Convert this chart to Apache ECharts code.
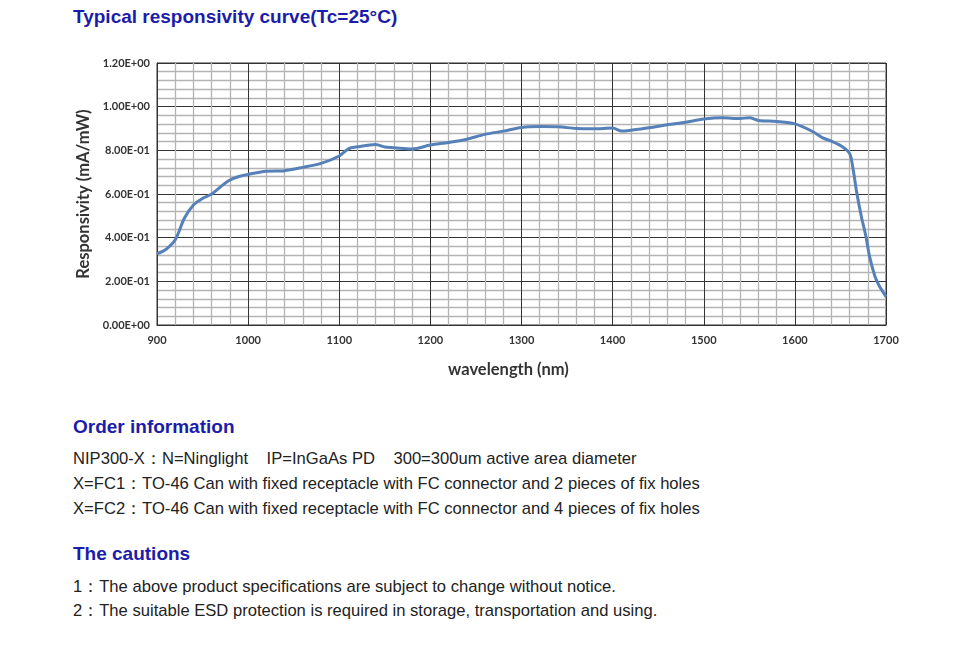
<!DOCTYPE html>
<html>
<head>
<meta charset="utf-8">
<script src="https://cdn.jsdelivr.net/npm/echarts@6/dist/echarts.min.js"></script>
<style>
  html, body { margin: 0; padding: 0; background: #fff; }
  #page { position: relative; width: 972px; height: 650px; overflow: hidden; font-family: "Liberation Sans", Arial, sans-serif; }
  #chart { position: absolute; left: 0; top: 0; width: 972px; height: 400px; }
  .h { position: absolute; left: 73px; color: #1c1caa; font-weight: bold; font-size: 19px; white-space: nowrap; }
  .t { position: absolute; left: 73px; color: #222; font-size: 16.6px; white-space: nowrap; }
</style>
</head>
<body>
<div id="page">
  <div class="h" style="top:6px;">Typical responsivity curve(Tc=25°C)</div>
  <div id="chart"></div>
  <div class="h" style="top:416px;">Order information</div>
  <div class="t" style="top:448px;">NIP300-X：N=Ninglight&nbsp;&nbsp;&nbsp; IP=InGaAs PD&nbsp;&nbsp;&nbsp; 300=300um active area diameter</div>
  <div class="t" style="top:473px;">X=FC1：TO-46 Can with fixed receptacle with FC connector and 2 pieces of fix holes</div>
  <div class="t" style="top:498px;">X=FC2：TO-46 Can with fixed receptacle with FC connector and 4 pieces of fix holes</div>
  <div class="h" style="top:543px;">The cautions</div>
  <div class="t" style="top:576px;">1：The above product specifications are subject to change without notice.</div>
  <div class="t" style="top:600px;">2：The suitable ESD protection is required in storage, transportation and using.</div>
</div>
<script>
const wavelength = [900, 910, 920, 930, 940, 950, 960, 970, 980, 990, 1000, 1020, 1040, 1060, 1080, 1100, 1110, 1120, 1140, 1150, 1160, 1180, 1200, 1220, 1240, 1260, 1280, 1300, 1320, 1340, 1360, 1380, 1400, 1410, 1420, 1440, 1460, 1480, 1500, 1520, 1540, 1550, 1560, 1580, 1600, 1620, 1630, 1640, 1650, 1660, 1664, 1668, 1673, 1678, 1682, 1688, 1693, 1700];
const responsivity = [0.326, 0.347, 0.39, 0.489, 0.55, 0.58, 0.60, 0.634, 0.664, 0.68, 0.69, 0.704, 0.707, 0.722, 0.74, 0.774, 0.807, 0.816, 0.827, 0.815, 0.812, 0.806, 0.824, 0.836, 0.851, 0.873, 0.888, 0.905, 0.909, 0.908, 0.900, 0.899, 0.902, 0.888, 0.892, 0.903, 0.917, 0.929, 0.943, 0.949, 0.946, 0.949, 0.937, 0.932, 0.921, 0.885, 0.858, 0.842, 0.822, 0.786, 0.71, 0.603, 0.496, 0.405, 0.313, 0.221, 0.176, 0.130];
const xTicks = [900, 1000, 1100, 1200, 1300, 1400, 1500, 1600, 1700];
const yTicks = [0, 0.2, 0.4, 0.6, 0.8, 1.0, 1.2];

function sci(v) {
  if (v === 0) return '0.00E+00';
  let e = Math.floor(Math.log10(Math.abs(v)) + 1e-9);
  let m = v / Math.pow(10, e);
  const sign = e < 0 ? '-' : '+';
  const ea = Math.abs(e);
  return m.toFixed(2) + 'E' + sign + (ea < 10 ? '0' : '') + ea;
}

const chart = echarts.init(document.getElementById('chart'), null, { renderer: 'canvas' });
const labelFont = 'Lato, "Open Sans", sans-serif';
chart.setOption({
  animation: false,
  grid: { left: 157, right: 86, top: 63, height: 262, show: true, borderColor: '#333', borderWidth: 1, backgroundColor: 'transparent' },
  xAxis: {
    type: 'value', min: xTicks[0], max: xTicks[xTicks.length - 1], interval: 100,
    name: 'wavelength (nm)', nameLocation: 'middle', nameGap: 36,
    nameTextStyle: { fontFamily: labelFont, fontWeight: 'bold', fontSize: 16.5, color: '#333', padding: [0, 26, 0, 0] },
    axisLine: { lineStyle: { color: '#333', width: 1 } },
    axisTick: { show: false },
    axisLabel: { margin: 10, fontFamily: labelFont, fontWeight: 'bold', fontSize: 11, color: '#333', formatter: (v) => String(v) },
    splitLine: { show: true, lineStyle: { color: '#333', width: 1 } },
    minorTick: { show: false, splitNumber: 5 },
    minorSplitLine: { show: true, lineStyle: { color: '#b4b4b4', width: 1.3 } }
  },
  yAxis: {
    type: 'value', min: yTicks[0], max: yTicks[yTicks.length - 1], interval: 0.2,
    name: 'Responsivity (mA/mW)', nameLocation: 'middle', nameGap: 59, nameRotate: 90,
    nameTextStyle: { fontFamily: labelFont, fontWeight: 'bold', fontSize: 16.5, color: '#333' },
    axisLine: { show: true, lineStyle: { color: '#333', width: 1 } },
    axisTick: { show: false },
    axisLabel: { margin: 7, fontFamily: labelFont, fontWeight: 'bold', fontSize: 11, color: '#333', formatter: sci },
    splitLine: { show: true, lineStyle: { color: '#333', width: 1 } },
    minorTick: { show: false, splitNumber: 5 },
    minorSplitLine: { show: true, lineStyle: { color: '#b4b4b4', width: 1.3 } }
  },
  series: [{
    type: 'line',
    data: wavelength.map((w, i) => [w, responsivity[i]]),
    smooth: 0.3,
    showSymbol: false,
    lineStyle: { color: '#5581b8', width: 3 },
    z: 5
  }]
});
</script>
</body>
</html>
